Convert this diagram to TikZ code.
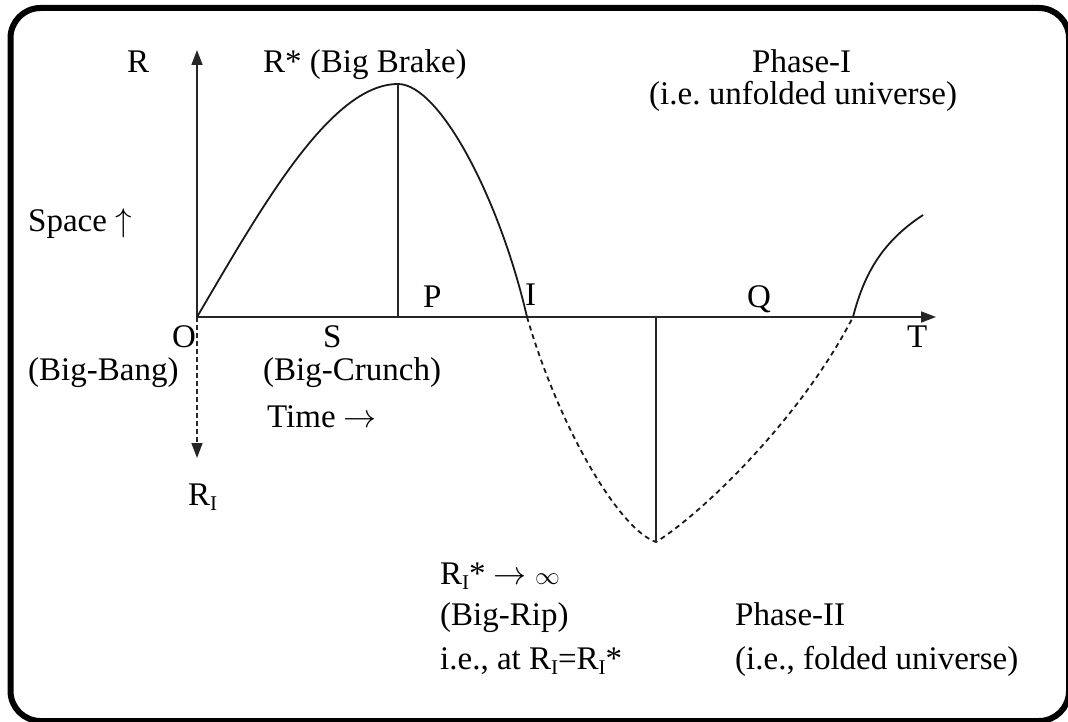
\RequirePackage{fix-cm}
\documentclass[tikz,border=0pt]{standalone}
\usepackage{fontspec}
\setmainfont{Liberation Serif}
\usetikzlibrary{arrows.meta}
\frenchspacing
\newcommand{\subI}{\raisebox{-0.18em}{\fontsize{21}{21}\selectfont I}}
\tikzset{
  lbl/.style={font=\fontsize{33}{40}\selectfont, inner sep=0pt, anchor=base west},
  axisline/.style={line width=1.6pt, draw=black!85},
  curve/.style={line width=1.8pt, draw=black!90},
  dcurve/.style={line width=1.8pt, draw=black!90, dash pattern=on 5pt off 4pt},
  tip/.style={-{Triangle[length=15pt,width=11pt]}},
  frame/.style={line width=6pt, draw=black, rounded corners=30pt}
}
\begin{document}
\begin{tikzpicture}[x=1pt,y=-1pt]
\useasboundingbox (0,0) rectangle (1068,722);
\begin{scope}
\clip (0,0) rectangle (1068,722);
\draw[frame] (10.5,8) rectangle (1069,721);
\end{scope}
% key points
\coordinate (O) at (197,317);
\coordinate (Ytop) at (197,50);
\coordinate (Xend) at (936,317);
\coordinate (Ydown) at (197,458);
\coordinate (Peak) at (398,84);
\coordinate (PeakFoot) at (398,317);
\coordinate (I) at (527,317);
\coordinate (Min) at (656,542);
\coordinate (MinFoot) at (656,317);
\coordinate (J) at (853,317);
\coordinate (End) at (923,215);
% axes
\draw[axisline,tip] (O) -- (Ytop);
\draw[axisline,tip] (O) -- (Xend);
\draw[axisline,tip,dash pattern=on 5pt off 3pt] (O) -- (Ydown);
% curves
\draw[curve] (O) .. controls (260,210) and (330,84) .. (Peak)
             .. controls (440,84) and (500,200) .. (I);
\draw[dcurve] (I) .. controls (560,430) and (620,530) .. (Min)
              .. controls (700,515) and (800,420) .. (J);
\draw[curve] (J) .. controls (865,270) and (885,240) .. (End);
% verticals
\draw[axisline] (Peak) -- (PeakFoot);
\draw[axisline] (Min) -- (MinFoot);
% labels
\node[lbl] (lR) at (127,73) {R};
\node[lbl] (lRstar) at (263,73) {R* (Big Brake)};
\node[lbl] (lPh1) at (752,73) {Phase-I};
\node[lbl] (lUnf) at (649,105) {(i.e. unfolded universe)};
\node[lbl] (lSpace) at (28,232) {Space $\uparrow$};
\node[lbl] (lO) at (172,347) {O};
\node[lbl] (lS) at (323,347) {S};
\node[lbl] (lBang) at (28,380) {(Big-Bang)};
\node[lbl] (lCrunch) at (263,380) {(Big-Crunch)};
\node[lbl] (lTime) at (267,427) {Time $\rightarrow$};
\node[lbl] (lRI) at (188,505) {R\subI};
\node[lbl] (lP) at (423,307) {P};
\node[lbl] (lI) at (525,305) {I};
\node[lbl] (lQ) at (747,307) {Q};
\node[lbl] (lT) at (907,347) {T};
\node[lbl] (lRinf) at (440,584) {R\subI* $\rightarrow$ \scalebox{0.75}{$\infty$}};
\node[lbl] (lRip) at (440,625) {(Big-Rip)};
\node[lbl] (lPh2) at (735,625) {Phase-II};
\node[lbl] (lAt) at (440,669) {i.e., at R\subI=R\subI*};
\node[lbl] (lFold) at (735,669) {(i.e., folded universe)};
\end{tikzpicture}
\end{document}
